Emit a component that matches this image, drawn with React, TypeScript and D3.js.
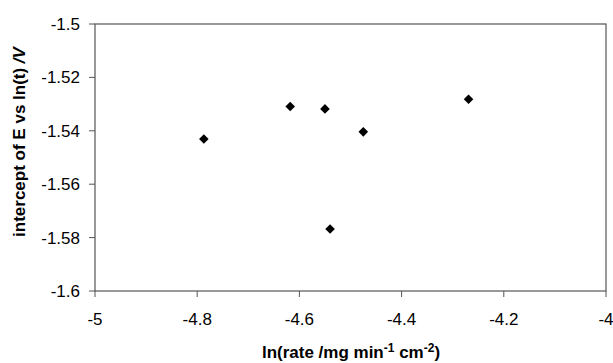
import React from 'react';
import { scaleLinear, symbol, symbolSquare } from 'd3';

// values
const rateLn = [-4.787, -4.618, -4.55, -4.475, -4.54, -4.269];
const intercept = [-1.5431, -1.5309, -1.5318, -1.5404, -1.5768, -1.5282];
const xTicks = [-5, -4.8, -4.6, -4.4, -4.2, -4];
const yTicks = [-1.5, -1.52, -1.54, -1.56, -1.58, -1.6];

const W = 613;
const H = 363;
const margin = { top: 24, right: 7, bottom: 72, left: 95 };

const App = () => {
  const x = scaleLinear().domain([-5, -4]).range([margin.left, W - margin.right]);
  const y = scaleLinear().domain([-1.6, -1.5]).range([H - margin.bottom, margin.top]);
  // rotated square gives the even diamond marker
  const diamond = symbol().type(symbolSquare).size(46)() as string;
  const font = 'Liberation Sans, Arial, sans-serif';

  return (
    <svg
      width={W}
      height={H}
      style={{ position: 'absolute', left: 0, top: 0, background: '#fff' }}
      fontFamily={font}
    >
      {/* frame */}
      <rect
        x={x(-5)}
        y={y(-1.5)}
        width={x(-4) - x(-5)}
        height={y(-1.6) - y(-1.5)}
        fill="none"
        stroke="#555"
        strokeWidth={1.2}
      />

      {/* y axis */}
      {yTicks.map((t) => (
        <g key={t}>
          <line x1={x(-5) - 6} x2={x(-5)} y1={y(t)} y2={y(t)} stroke="#555" />
          <text x={x(-5) - 15} y={y(t)} dy="0.35em" textAnchor="end" fontSize={17} fill="#000">
            {t}
          </text>
        </g>
      ))}

      {/* x axis */}
      {xTicks.map((t) => (
        <g key={t}>
          <line x1={x(t)} x2={x(t)} y1={y(-1.6)} y2={y(-1.6) + 6} stroke="#555" />
          <text x={x(t)} y={y(-1.6) + 34} textAnchor="middle" fontSize={17} fill="#000">
            {t}
          </text>
        </g>
      ))}

      {/* points */}
      {rateLn.map((v, i) => (
        <path
          key={i}
          d={diamond}
          transform={`translate(${x(v)},${y(intercept[i])}) rotate(45)`}
          fill="#000"
        />
      ))}

      {/* axis titles */}
      <text x={351} y={358} textAnchor="middle" fontSize={17} fontWeight="bold" fill="#000">
        ln(rate /mg min<tspan dy={-6} fontSize={12}>-1</tspan>
        <tspan dy={6}> cm</tspan>
        <tspan dy={-6} fontSize={12}>-2</tspan>
        <tspan dy={6}>)</tspan>
      </text>
      <text
        transform="translate(25,142) rotate(-90)"
        textAnchor="middle"
        fontSize={17}
        fontWeight="bold"
        fill="#000"
      >
        intercept of E vs ln(t) <tspan fontStyle="italic">/V</tspan>
      </text>
    </svg>
  );
};

export default App;
